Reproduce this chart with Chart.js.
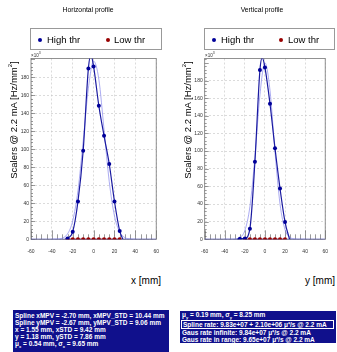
<!DOCTYPE html>
<html>
<head>
<meta charset="utf-8">
<script src="https://cdn.jsdelivr.net/npm/chart.js@4/dist/chart.umd.min.js"></script>
<style>
  body { margin: 0; background: #fff; width: 337px; height: 352px; overflow: hidden; position: relative; font-family: "Liberation Sans", Arial, sans-serif; }
  canvas { position: absolute; top: 0; }
  .title { position: absolute; top: 6px; font-size: 6.8px; color: #000; transform: translateX(-50%); white-space: nowrap; }
  .legend { position: absolute; top: 28px; height: 22px; border: 1px solid #999; box-sizing: border-box; font-size: 9.5px; }
  .legend span { position: absolute; top: 5px; white-space: nowrap; }
  .dot { position: absolute; top: 9px; width: 4px; height: 4px; border-radius: 50%; }
  .ytitle { position: absolute; font-size: 9.5px; white-space: nowrap; transform: translate(-50%, -50%) rotate(-90deg); }
  .xtitle { position: absolute; top: 275px; font-size: 10px; white-space: nowrap; transform: translateX(-100%); }
  .mult { position: absolute; top: 51px; font-size: 4.5px; color: #333; }
  .box { position: absolute; background: #10108c; color: #fff; font-weight: bold; font-size: 6.5px; line-height: 7px; white-space: nowrap; box-sizing: border-box; overflow: hidden; }
  .box div { padding-left: 2px; height: 7px; }
  .framed { border: 1px solid #fff; }
</style>
</head>
<body>
<canvas id="hChart"></canvas>
<canvas id="vChart"></canvas>

<div class="title" style="left:88px">Horizontal profile</div>
<div class="title" style="left:262px">Vertical profile</div>

<div class="legend" style="left:30px; width:132px">
  <div class="dot" style="left:7px; background:#000099"></div><span style="left:16px">High thr</span>
  <div class="dot" style="left:75px; background:#990000"></div><span style="left:83px">Low thr</span>
</div>
<div class="legend" style="left:204px; width:131px">
  <div class="dot" style="left:7px; background:#000099"></div><span style="left:16px">High thr</span>
  <div class="dot" style="left:74px; background:#990000"></div><span style="left:83px">Low thr</span>
</div>

<div class="ytitle" style="left:13px; top:120px">Scalers @ 2.2 mA [Hz/mm<sup style="font-size:6px">2</sup>]</div>
<div class="ytitle" style="left:187px; top:120px">Scalers @ 2.2 mA [Hz/mm<sup style="font-size:6px">2</sup>]</div>
<div class="mult" style="left:31px">×10<sup style="font-size:3.5px">3</sup></div>
<div class="mult" style="left:205px">×10<sup style="font-size:3.5px">3</sup></div>

<div class="xtitle" style="left:161px">x [mm]</div>
<div class="xtitle" style="left:335px">y [mm]</div>

<div class="box" style="left:13px; top:310px; width:156px; height:42px; padding-top:2px">
  <div>Spline xMPV = -2.70 mm, xMPV_STD = 10.44 mm</div>
  <div>Spline yMPV = -2.67 mm, yMPV_STD = 9.06 mm</div>
  <div>x = 1.55 mm, xSTD = 9.42 mm</div>
  <div>y = 1.18 mm, ySTD = 7.86 mm</div>
  <div>μ<sub style="font-size:4px">x</sub> = 0.54 mm, σ<sub style="font-size:4px">x</sub> = 9.65 mm</div>
</div>
<div class="box" style="left:180px; top:311px; width:156px; height:32px; padding-top:0">
  <div>μ<sub style="font-size:4px">y</sub> = 0.19 mm, σ<sub style="font-size:4px">y</sub> = 8.25 mm</div>
  <div class="framed" style="margin:2px 2px 0 1px; padding-left:1px">Spline rate: 9.83e+07 + 2.10e+06 μ⁺/s @ 2.2 mA</div>
  <div>Gaus rate infinite: 9.84e+07 μ⁺/s @ 2.2 mA</div>
  <div>Gaus rate in range: 9.65e+07 μ⁺/s @ 2.2 mA</div>
</div>

<script>
// positions in mm
const scanPos = [-25, -20, -15, -10, -5, 0, 5, 10, 15, 20, 25];
const scanPosV = [-20, -15, -10, -5, 0, 5, 10, 15, 20];
const xTicks = [-60, -40, -20, 0, 20, 40, 60];

// horizontal profile (x10^3 Hz/mm2)
const hHigh = [1, 8.5, 42, 98.5, 190, 192, 148.5, 115, 83.7, 42, 9.3];
const hLow = [0, 0, 0, 0, 0, 0, 0, 0, 0, 0, 0];
const hSplineX = [-27, -25, -20, -15, -10, -5, -2.6, 0, 5, 10, 15, 20, 25, 28];
const hSplineY = [0, 1, 8.5, 42, 98.5, 190, 205, 192, 148.5, 115, 83.7, 42, 9.3, 0];
const hGausX = [-40, -35, -30, -25, -20, -15, -10, -5, 0, 5, 10, 15, 20, 25, 30, 35, 40];
const hGausY = [0, 0.2, 1.3, 6, 20.6, 54, 109, 168, 198, 178, 122, 64, 26, 8, 1.9, 0.3, 0];

// vertical profile
const vHighX = [-25, -20, -15, -10, -5, 0, 5, 10, 15, 20];
const vHigh = [0.5, 1, 12, 88, 192, 194.7, 153.7, 103.2, 57.6, 19.6];
const vLow = [0, 0, 0, 0, 0, 0, 0, 0, 0];
const vSplineX = [-28, -25, -20, -15, -10, -5, -2.7, 0, 5, 10, 15, 20, 24.5];
const vSplineY = [0, 0.5, 1, 12, 88, 192, 206, 194.7, 153.7, 103.2, 57.6, 19.6, 0];
const vGausX = [-40, -35, -30, -25, -20, -15, -10, -5, 0, 5, 10, 15, 20, 25, 30, 35, 40];
const vGausY = [0, 0, 0.25, 1.9, 10, 37, 93, 164, 200, 169, 99, 40, 11, 2.2, 0.3, 0, 0];

const pts = (xs, ys) => xs.map((x, i) => ({ x: x, y: ys[i] }));

// ROOT style frame + inner tick marks
const rootFrame = {
    id: 'rootFrame',
    beforeDatasetsDraw(chart) {
        const { ctx, chartArea: a } = chart;
        const xs = chart.scales.x, ys = chart.scales.y;
        ctx.save();
        ctx.strokeStyle = '#555';
        ctx.lineWidth = 0.6;
        for (let v = -60; v <= 60; v += 5) {
            const px = Math.round(xs.getPixelForValue(v)) + 0.5;
            const len = v % 20 === 0 ? 9 : 5;
            ctx.beginPath();
            ctx.moveTo(px, a.bottom);
            ctx.lineTo(px, a.bottom - len);
            ctx.stroke();
        }
        for (let v = 0; v <= ys.max; v += 4) {
            const py = Math.round(ys.getPixelForValue(v)) + 0.5;
            const len = v % 20 === 0 ? 4 : 2;
            ctx.beginPath();
            ctx.moveTo(a.left, py);
            ctx.lineTo(a.left + len, py);
            ctx.stroke();
        }
        ctx.strokeStyle = '#777';
        ctx.lineWidth = 0.8;
        ctx.strokeRect(a.left, a.top, a.right - a.left, a.bottom - a.top);
        ctx.restore();
    }
};

function makeChart(id, left, width, yLeft, yMax, high, low, spline, gaus) {
    const canvas = document.getElementById(id);
    canvas.style.left = left + 'px';
    canvas.width = width;
    canvas.height = 262;
    canvas.style.width = width + 'px';
    canvas.style.height = '262px';

    return new Chart(canvas.getContext('2d'), {
        type: 'scatter',
        data: {
            datasets: [
                { label: 'High thr', data: high, showLine: false, pointRadius: 2, pointBackgroundColor: '#000099', pointBorderWidth: 0 },
                { label: 'Low thr', data: low, showLine: true, borderColor: '#990000', borderWidth: 1, pointRadius: 2, pointBackgroundColor: '#990000', pointBorderWidth: 0 },
                { label: 'spline', data: spline, showLine: true, borderColor: '#1a1aa0', borderWidth: 1.2, pointRadius: 0, cubicInterpolationMode: 'monotone' },
                { label: 'gaus', data: gaus, showLine: true, borderColor: 'rgba(130,130,235,0.75)', borderWidth: 0.9, pointRadius: 0, cubicInterpolationMode: 'monotone' },
                { label: 'base', data: [{ x: -60, y: 0 }, { x: 60, y: 0 }], showLine: true, borderColor: '#4a4ac0', borderWidth: 1.2, pointRadius: 0 }
            ]
        },
        options: {
            animation: false,
            responsive: false,
            events: [],
            layout: { padding: { top: 58.5, right: width - (yLeft + (id === 'hChart' ? 130.5 : 130.3)), left: 0, bottom: 0 } },
            plugins: { legend: { display: false }, tooltip: { enabled: false } },
            scales: {
                x: {
                    type: 'linear', min: -60, max: 60,
                    afterBuildTicks: s => { s.ticks = xTicks.map(v => ({ value: v })); },
                    afterFit: s => { s.height = 262 - 239.3; },
                    grid: { color: '#c4c4c4', lineWidth: 0.6, drawTicks: false, drawOnChartArea: true },
                    border: { display: false, dash: [2, 2] },
                    ticks: { font: { size: 5, family: 'Liberation Sans' }, color: '#333', padding: 9, maxRotation: 0 }
                },
                y: {
                    min: 0, max: yMax,
                    afterBuildTicks: s => { s.ticks = s.ticks.filter(t => t.value % 20 === 0); },
                    afterFit: s => { s.width = yLeft; },
                    grid: { color: '#c4c4c4', lineWidth: 0.6, drawTicks: false },
                    border: { display: false, dash: [2, 2] },
                    ticks: { stepSize: 20, font: { size: 5, family: 'Liberation Sans' }, color: '#333', padding: 2 }
                }
            }
        },
        plugins: [rootFrame]
    });
}

makeChart('hChart', 0, 168, 31, 201, pts(scanPos, hHigh), pts(scanPos, hLow), pts(hSplineX, hSplineY), pts(hGausX, hGausY));
makeChart('vChart', 168, 169, 36.7, 205, pts(vHighX, vHigh), pts(scanPosV, vLow), pts(vSplineX, vSplineY), pts(vGausX, vGausY));
</script>
</body>
</html>
